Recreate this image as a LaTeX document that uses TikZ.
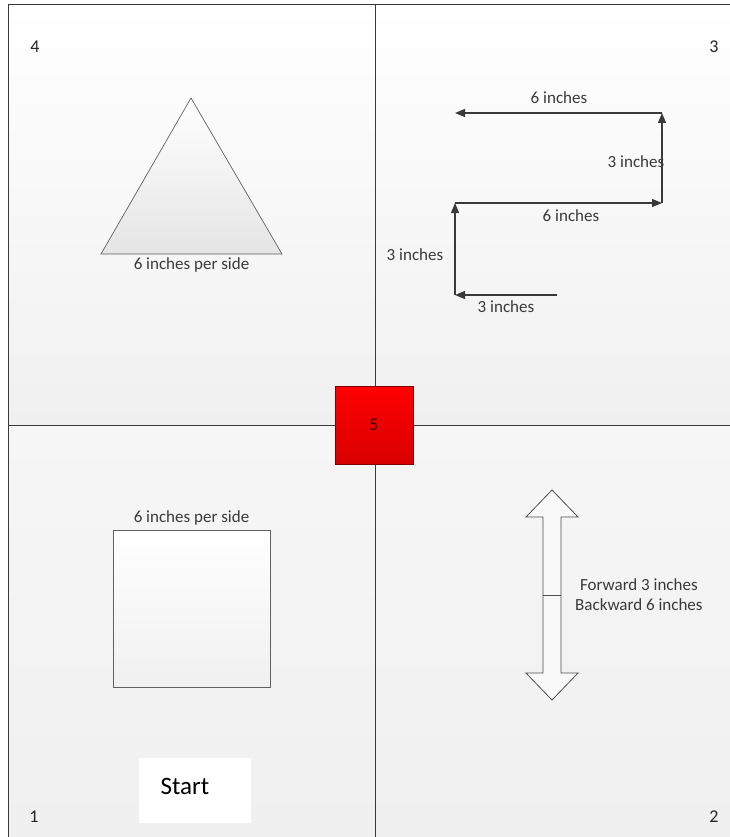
\documentclass[tikz,border=0pt]{standalone}
\usepackage{fontspec}
\setmainfont{Carlito}
\usetikzlibrary{positioning, arrows.meta, calc}

\definecolor{inkgray}{HTML}{3A3A3A}
\definecolor{bgtop}{HTML}{FFFFFF}
\definecolor{bgbot}{HTML}{F0F0F0}

\tikzset{
  lbl/.style={text=inkgray, font=\fontsize{17}{20}\selectfont, inner sep=1pt},
  quadnum/.style={text=black!85, font=\fontsize{18}{20}\selectfont, inner sep=1pt},
  move/.style={draw=inkgray, line width=1.2pt, -{Triangle[width=8pt,length=10pt]}},
  frame/.style={draw=inkgray, line width=1pt}
}

\begin{document}
\begin{tikzpicture}[x=1pt, y=-1pt]
\useasboundingbox (0,0) rectangle (730,837);

% quadrant backgrounds
\shade[top color=bgtop, bottom color=bgbot] (8,5) rectangle (375,425);
\shade[top color=bgtop, bottom color=bgbot] (375,5) rectangle (730,425);
\shade[top color=bgtop!40!bgbot, bottom color=bgbot] (8,425) rectangle (375,837);
\shade[top color=bgtop!40!bgbot, bottom color=bgbot] (375,425) rectangle (730,837);

% frame and dividers
\draw[frame] (8,837) -- (8,5) -- (730,5);
\draw[frame] (375,5) -- (375,837);
\draw[frame] (8,425) -- (730,425);

% quadrant numbers
\node[quadnum] (q4) at (35,47) {4};
\node[quadnum] (q3) at (714,47) {3};
\node[quadnum] (q1) at (34,817) {1};
\node[quadnum] (q2) at (714,817) {2};

% quadrant 4: triangle
\coordinate (tritop) at (191,98);
\coordinate (trileft) at (101,254);
\coordinate (triright) at (282,254);
\shade[top color=white, bottom color=bgbot!90!gray, draw=inkgray!80, line width=0.7pt]
  (tritop) -- (triright) -- (trileft) -- cycle;
\node[lbl, below=2pt of $(trileft)!0.5!(triright)$] (trilabel) {6 inches per side};

% quadrant 3: path of moves
\coordinate (m0) at (557,295);
\coordinate (m1) at (455,295);
\coordinate (m2) at (455,203);
\coordinate (m3) at (662,203);
\coordinate (m4) at (662,113);
\coordinate (m5) at (455,113);
\draw[move] (m0) -- (m1);
\draw[move] (m1) -- (m2);
\draw[move] (m2) -- (m3);
\draw[move] (m3) -- (m4);
\draw[move] (m4) -- (m5);
\node[lbl] (l1) at (506,307) {3 inches};
\node[lbl] (l2) at (415,255) {3 inches};
\node[lbl] (l3) at (571,216) {6 inches};
\node[lbl] (l4) at (636,162) {3 inches};
\node[lbl] (l5) at (559,98) {6 inches};

% center: square 5
\node[draw=red!50!black, line width=0.6pt, top color=red!100, bottom color=red!85!black,
      minimum size=78pt, inner sep=0pt, text=red!25!black,
      font=\fontsize{18}{20}\selectfont] (five) at (374,425) {5};

% quadrant 1: square
\node[draw=inkgray!80, line width=1pt, top color=white, bottom color=bgbot,
      minimum size=157pt, inner sep=0pt] (sq) at (191.5,608.5) {};
\node[lbl, above=3pt of sq] (sqlabel) {6 inches per side};

% start box
\node[fill=white, minimum width=112pt, minimum height=65pt, inner sep=0pt] (startbox) at (195,790.5) {};
\node[text=black, font=\fontsize{25}{28}\selectfont, inner sep=0pt] (start) at (185,786) {Start};

% quadrant 2: forward / backward arrow
\draw[draw=inkgray!90, line width=0.8pt, fill=white!60!bgbot]
  (552,490) -- (578,517) -- (561,517) -- (561,673) -- (578,673) -- (552,700)
  -- (526,673) -- (543,673) -- (543,517) -- (526,517) -- cycle;
\coordinate (mid) at (552,595);
\draw[draw=inkgray!90, line width=0.8pt] ($(mid)+(-9,0)$) -- ($(mid)+(9,0)$);
\node[lbl, align=center, right=22pt of mid] (fwdback) {Forward 3 inches\\Backward 6 inches};
\end{tikzpicture}
\end{document}
